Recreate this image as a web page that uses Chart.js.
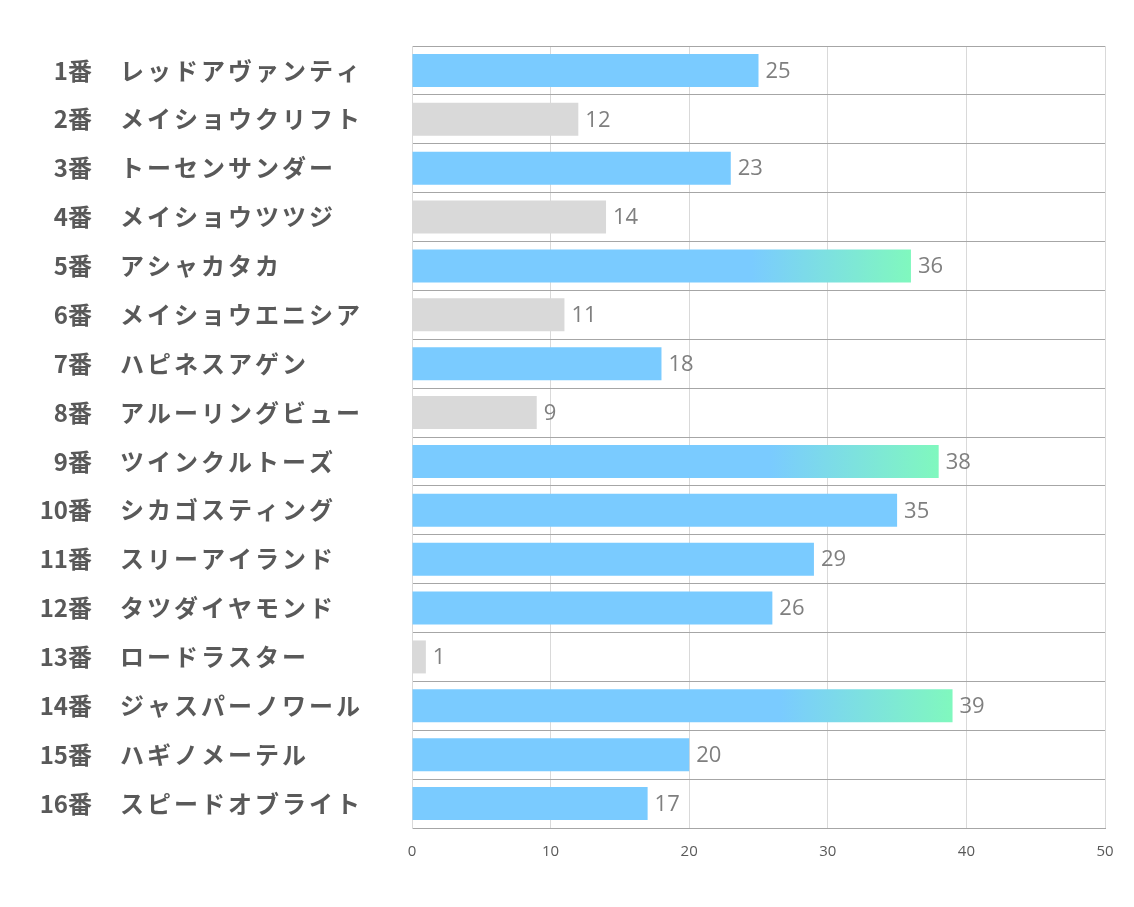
<!DOCTYPE html>
<html lang="ja">
  <head>
    <meta charset="UTF-8" />
    <script src="https://cdn.jsdelivr.net/npm/chart.js@4.4.0/dist/chart.umd.min.js"></script>
    <title>Chart</title>
    <style>
      body { margin: 0; background: #fff; }
      #wrap { width: 1134px; height: 907px; }
    </style>
  </head>
  <body>
    <div id="wrap"><canvas id="myChart" width="1134" height="907"></canvas></div>
    <script>
      const horseNumbers = ["1番", "2番", "3番", "4番", "5番", "6番", "7番", "8番",
        "9番", "10番", "11番", "12番", "13番", "14番", "15番", "16番"];
      const horseNames = ["レッドアヴァンティ", "メイショウクリフト", "トーセンサンダー", "メイショウツツジ",
        "アシャカタカ", "メイショウエニシア", "ハピネスアゲン", "アルーリングビュー",
        "ツインクルトーズ", "シカゴスティング", "スリーアイランド", "タツダイヤモンド",
        "ロードラスター", "ジャスパーノワール", "ハギノメーテル", "スピードオブライト"];
      const scores = [25, 12, 23, 14, 36, 11, 18, 9, 38, 35, 29, 26, 1, 39, 20, 17];
      const greyHorses = [2, 4, 6, 8, 13];
      const topHorses = [5, 9, 14];
      const xTicks = [0, 10, 20, 30, 40, 50];

      const labels = horseNumbers.map((n, i) => n + "　" + horseNames[i]);

      function barColor(ctx) {
        const num = ctx.dataIndex + 1;
        if (greyHorses.includes(num)) return "#D9D9D9";
        if (!topHorses.includes(num)) return "#7ACBFF";
        const chart = ctx.chart;
        if (!chart.chartArea || !chart.scales.x) return "#7ACBFF";
        const x0 = chart.scales.x.getPixelForValue(0);
        const x1 = chart.scales.x.getPixelForValue(scores[ctx.dataIndex]);
        const g = chart.ctx.createLinearGradient(x0, 0, x1, 0);
        g.addColorStop(0, "#7ACBFF");
        g.addColorStop(0.68, "#7ACBFF");
        g.addColorStop(1, "#80F8BE");
        return g;
      }

      const textPlugin = {
        id: "textPlugin",
        afterDraw(chart) {
          const ctx = chart.ctx;
          const y = chart.scales.y;
          ctx.save();
          ctx.textBaseline = "middle";
          ctx.fillStyle = "#595959";
          ctx.font = "bold 24px 'Noto Sans CJK JP'";
          horseNumbers.forEach((n, i) => {
            const py = y.getPixelForValue(i);
            ctx.letterSpacing = "0px";
            ctx.textAlign = "right";
            ctx.fillText(n, 92, py);
            ctx.letterSpacing = "3px";
            ctx.textAlign = "left";
            ctx.fillText(horseNames[i], 120, py);
          });
          ctx.letterSpacing = "0px";
          ctx.font = "22px 'Open Sans', 'Noto Sans'";
          ctx.fillStyle = "#7F7F7F";
          ctx.textAlign = "left";
          const meta = chart.getDatasetMeta(0);
          meta.data.forEach((bar, i) => {
            ctx.fillText(String(scores[i]), bar.x + 7, bar.y + 1);
          });
          ctx.restore();
        },
      };

      new Chart(document.getElementById("myChart"), {
        type: "bar",
        data: {
          labels: labels,
          datasets: [{
            data: scores,
            backgroundColor: barColor,
            borderWidth: 0,
            barPercentage: 0.675,
            categoryPercentage: 1,
          }],
        },
        options: {
          indexAxis: "y",
          responsive: false,
          animation: false,
          layout: { padding: { left: 412, right: 29, top: 46, bottom: 31 } },
          plugins: { legend: { display: false }, tooltip: { enabled: false } },
          scales: {
            x: {
              min: 0,
              max: 50,
              afterBuildTicks: (s) => { s.ticks = xTicks.map((v) => ({ value: v })); },
              grid: { color: "#D9D9D9", drawTicks: false },
              border: { color: "#A6A6A6" },
              ticks: { color: "#595959", font: { size: 15, family: "'Open Sans'" }, padding: 15 },
            },
            y: {
              grid: { color: "#A6A6A6", drawTicks: false, offset: true },
              border: { color: "#D9D9D9" },
              ticks: { display: false },
            },
          },
        },
        plugins: [textPlugin],
      });
    </script>
  </body>
</html>
